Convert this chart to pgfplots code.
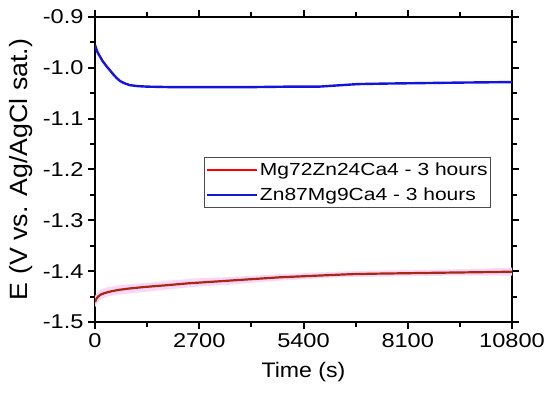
\documentclass[border=0pt]{standalone}
\usepackage{pgfplots}
\pgfplotsset{compat=1.18}
\usepgfplotslibrary{fillbetween}
\usepackage{fontspec}
\setmainfont{Liberation Sans}
\newfontfamily\tickfont[FakeStretch=1.18]{Liberation Sans}
\newfontfamily\xlabfont[FakeStretch=1.1]{Liberation Sans}
\newfontfamily\ylabfont[FakeStretch=1.07]{Liberation Sans}
\newfontfamily\legfont[FakeStretch=1.2]{Liberation Sans}
\definecolor{redline}{RGB}{168,40,20}
\definecolor{bandpink}{RGB}{251,214,246}
\definecolor{blueline}{RGB}{20,20,220}
\begin{document}
\begin{tikzpicture}
\begin{axis}[
  scale only axis,
  width=417bp, height=305bp,
  xmin=0, xmax=10800, ymin=-1.5, ymax=-0.9,
  xtick={0,2700,5400,8100,10800},
  xticklabels={0,2700,5400,8100,10800},
  ytick={-1.5,-1.4,-1.3,-1.2,-1.1,-1.0,-0.9},
  yticklabels={-1.5,-1.4,-1.3,-1.2,-1.1,-1.0,-0.9},
  minor x tick num=1, minor y tick num=1,
  scaled x ticks=false,
  tick align=outside,
  major tick length=7bp, minor tick length=4.5bp,
  every tick/.style={black, line width=2bp},
  axis line style={line width=2.2bp},
  tick label style={font=\tickfont\fontsize{20bp}{23bp}\selectfont},
  yticklabel style={xshift=-1bp},
  xticklabel style={yshift=-1bp},
  xlabel={Time (s)},
  ylabel={E (V vs. Ag/AgCl sat.)},
  xlabel style={font=\xlabfont\fontsize{21bp}{25bp}\selectfont, at={(axis description cs:0.5,-0.165)}, anchor=center},
  ylabel style={font=\ylabfont\fontsize{25bp}{29bp}\selectfont, at={(axis description cs:-0.178,0.5)}, anchor=center},
  legend style={at={(0.262,0.54)}, anchor=north west, draw=black!70, line width=0.7bp,
    font=\legfont\fontsize{17.5bp}{21bp}\selectfont, inner xsep=1bp, inner ysep=3bp, row sep=7bp},
  legend cell align=left,
  legend image code/.code={\draw[#1] (0bp,0bp) -- (50bp,0bp);},
]
\addplot[draw=none, forget plot, name path=up] coordinates {
(0,-1.449) (100,-1.438) (300,-1.432) (600,-1.428) (1000,-1.425) (1500,-1.422) (2000,-1.418) (2700,-1.414) (3600,-1.411) (4500,-1.407) (5400,-1.404) (6300,-1.401) (7200,-1.399) (8100,-1.398) (9000,-1.397) (10000,-1.395) (10800,-1.393)};
\addplot[draw=none, forget plot, name path=lo] coordinates {
(0,-1.471) (100,-1.458) (300,-1.450) (600,-1.446) (1000,-1.443) (1500,-1.439) (2000,-1.435) (2700,-1.430) (3600,-1.426) (4500,-1.420) (5400,-1.416) (6300,-1.412) (7200,-1.411) (8100,-1.410) (9000,-1.409) (10000,-1.409) (10800,-1.409)};
\addplot[bandpink, forget plot] fill between[of=up and lo];
\addplot[redline, line width=2.2bp, forget plot] coordinates {
(0,-1.461) (30,-1.455) (80,-1.450) (150,-1.446) (250,-1.443) (400,-1.440) (600,-1.437) (900,-1.434) (1300,-1.431) (1800,-1.428) (2400,-1.424) (3000,-1.421) (3600,-1.418) (4200,-1.415) (4800,-1.412) (5400,-1.410) (6000,-1.408) (6600,-1.406) (7200,-1.405) (8100,-1.404) (9000,-1.403) (10000,-1.402) (10800,-1.401)};
\addlegendimage{red, line width=2.2bp}
\addlegendentry{Mg72Zn24Ca4 - 3 hours}
\addplot[blueline, line width=2.4bp] coordinates {
(0,-0.955) (30,-0.962) (70,-0.970) (130,-0.978) (200,-0.987) (300,-0.997) (400,-1.006) (475,-1.013) (560,-1.020) (650,-1.026) (750,-1.030) (900,-1.034) (1100,-1.036) (1350,-1.037) (2000,-1.038) (3000,-1.038) (4000,-1.038) (5000,-1.037) (5800,-1.037) (6200,-1.035) (6800,-1.032) (7500,-1.031) (8500,-1.030) (9500,-1.029) (10800,-1.028)};
\addlegendentry{Zn87Mg9Ca4 - 3 hours}
\end{axis}
\pgfresetboundingbox
\path (current axis.south west) ++(-95bp,-73bp) coordinate (bbA);
\path (current axis.north east) ++(38bp,17bp) coordinate (bbB);
\useasboundingbox (bbA) rectangle (bbB);
\end{tikzpicture}
\end{document}
